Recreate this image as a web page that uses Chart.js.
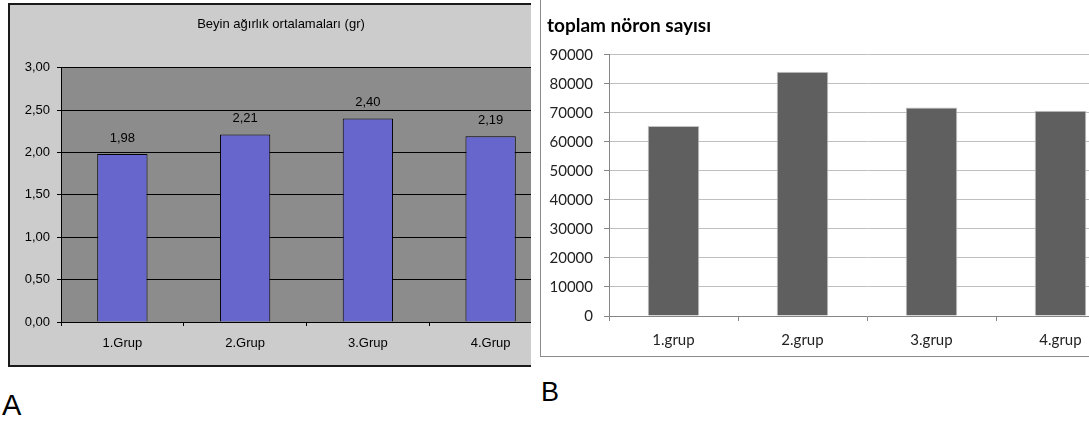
<!DOCTYPE html>
<html>
<head>
<meta charset="utf-8">
<script src="https://cdn.jsdelivr.net/npm/chart.js"></script>
<style>
  body { margin: 0; background: #fff; width: 1089px; height: 423px; overflow: hidden; position: relative; }
  #clipA { position: absolute; left: 0; top: 0; width: 531px; height: 423px; overflow: hidden; }
  #boxA { position: absolute; left: 8px; top: 3px; width: 553px; height: 360px; border: 2px solid #1a1a1a; background: #cccccc; }
  #clipB { position: absolute; left: 540px; top: 0; width: 549px; height: 423px; overflow: hidden; }
  #boxB { position: absolute; left: 0; top: -1px; width: 610px; height: 356px; border: 1px solid #8a8a8a; background: #fff; }
  canvas { display: block; }
  .tag { position: absolute; font-family: Arial, "Liberation Sans", sans-serif; color: #000; line-height: normal; }
</style>
</head>
<body>
<div id="clipA"><div id="boxA"><canvas id="chartA" width="553" height="360"></canvas></div></div>
<div id="clipB"><div id="boxB"><canvas id="chartB" width="610" height="356"></canvas></div></div>
<div class="tag" style="left:2px; top:389px; font-size:29px">A</div>
<div class="tag" style="left:541px; top:377px; font-size:27px">B</div>
<script>
// Chart A data
const groupsA = ["1.Grup", "2.Grup", "3.Grup", "4.Grup"];
const brainWeight = [1.98, 2.21, 2.40, 2.19];

// Chart B data
const groupsB = ["1.grup", "2.grup", "3.grup", "4.grup"];
const neuronCount = [65500, 84200, 71800, 70700];

const commaFmt = (v) => Number(v).toFixed(2).replace(".", ",");

// fills the plot area (old Excel grey)
const plotBg = {
  id: "plotBg",
  beforeDraw(chart, args, opts) {
    const { ctx, chartArea: a } = chart;
    ctx.save();
    ctx.fillStyle = opts.color;
    ctx.fillRect(a.left, a.top, a.right - a.left, a.bottom - a.top);
    ctx.restore();
  },
};

// value labels above the bars of chart A
const valueLabels = {
  id: "valueLabels",
  afterDatasetsDraw(chart) {
    const ctx = chart.ctx;
    const meta = chart.getDatasetMeta(0);
    ctx.save();
    ctx.font = "13px Arial, 'Liberation Sans'";
    ctx.fillStyle = "#000";
    ctx.textAlign = "center";
    ctx.textBaseline = "middle";
    meta.data.forEach((bar, i) => {
      ctx.fillText(commaFmt(brainWeight[i]), bar.x, bar.y - 16);
    });
    ctx.restore();
  },
};

const ctxA = document.getElementById("chartA").getContext("2d");
new Chart(ctxA, {
  type: "bar",
  data: {
    labels: groupsA,
    datasets: [
      {
        data: brainWeight,
        backgroundColor: "#6666cc",
        borderColor: "#000",
        borderWidth: 1,
        categoryPercentage: 1,
        barPercentage: 0.41,
      },
    ],
  },
  plugins: [plotBg, valueLabels],
  options: {
    responsive: false,
    animation: false,
    layout: { padding: { left: 0, right: 11, top: 0, bottom: 0 } },
    plugins: {
      legend: { display: false },
      tooltip: { enabled: false },
      plotBg: { color: "#8c8c8c" },
      title: {
        display: true,
        text: "Beyin ağırlık ortalamaları (gr)",
        color: "#000",
        font: { family: "Arial, 'Liberation Sans'", size: 13, weight: "normal" },
        padding: { top: 12, bottom: 35 },
      },
    },
    scales: {
      x: {
        grid: { drawOnChartArea: false, color: "#000", tickLength: 4 },
        border: { color: "#000" },
        ticks: { color: "#000", padding: 10, font: { family: "Arial, 'Liberation Sans'", size: 13 } },
        afterFit: (s) => { s.height = 43; },
      },
      y: {
        min: 0,
        max: 3,
        grid: { color: "#000", tickLength: 4 },
        border: { color: "#000" },
        ticks: {
          stepSize: 0.5,
          color: "#000",
          padding: 7,
          font: { family: "Arial, 'Liberation Sans'", size: 13 },
          callback: (v) => commaFmt(v),
        },
        afterFit: (s) => { s.width = 51; },
      },
    },
  },
});

const ctxB = document.getElementById("chartB").getContext("2d");
new Chart(ctxB, {
  type: "bar",
  data: {
    labels: groupsB,
    datasets: [
      {
        data: neuronCount,
        backgroundColor: "#5f5f5f",
        borderColor: "#c4c4c4",
        borderWidth: 1,
        categoryPercentage: 1,
        barPercentage: 0.4,
      },
    ],
  },
  options: {
    responsive: false,
    animation: false,
    layout: { padding: { left: 6, right: 26, top: 0, bottom: 0 } },
    plugins: {
      legend: { display: false },
      tooltip: { enabled: false },
      title: {
        display: true,
        text: "toplam nöron sayısı",
        align: "start",
        color: "#000",
        font: { family: "Lato", size: 19, weight: "bold" },
        padding: { top: 14, bottom: 18 },
      },
    },
    scales: {
      x: {
        grid: { drawOnChartArea: false, color: "#868686", tickLength: 5 },
        border: { color: "#868686" },
        ticks: { color: "#222", padding: 10, font: { family: "Lato", size: 15 } },
        afterFit: (s) => { s.height = 40; },
      },
      y: {
        min: 0,
        max: 90000,
        grid: { color: "#bfbfbf", tickColor: "#868686", tickLength: 5 },
        border: { color: "#868686" },
        ticks: {
          stepSize: 10000,
          color: "#222",
          padding: 11,
          font: { family: "Lato", size: 15 },
          callback: (v) => String(v),
        },
        afterFit: (s) => { s.width = 62; },
      },
    },
  },
});
</script>
</body>
</html>
